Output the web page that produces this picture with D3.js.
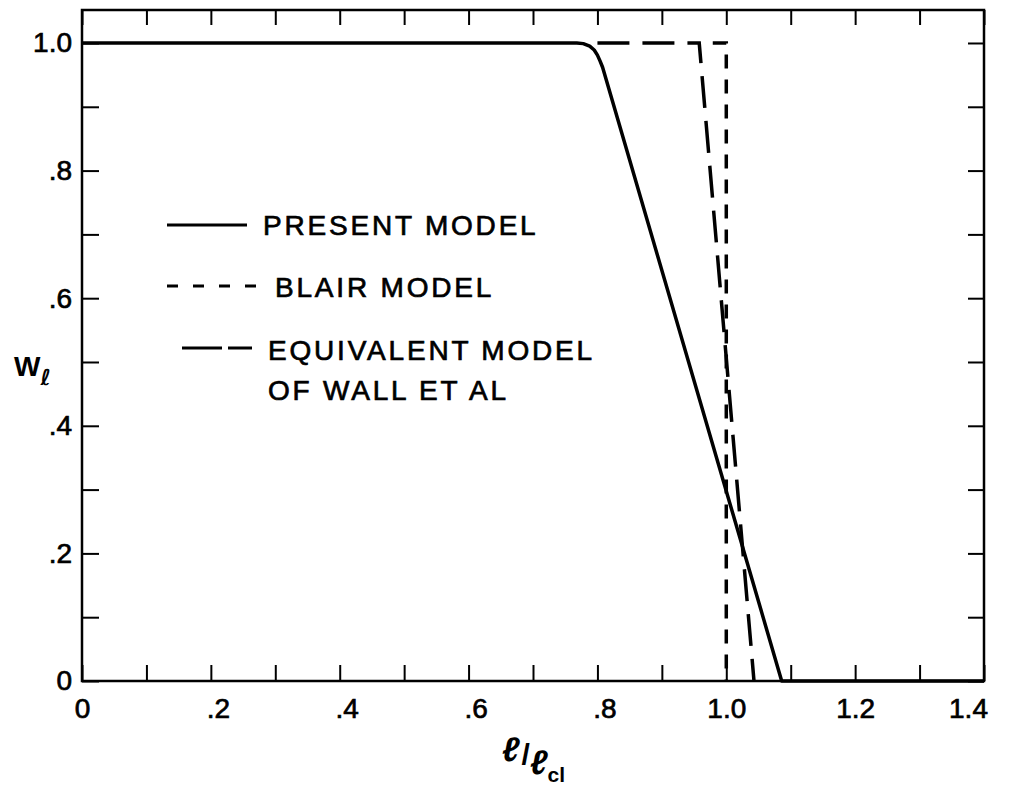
<!DOCTYPE html>
<html>
<head>
<meta charset="utf-8">
<script src="https://cdn.jsdelivr.net/npm/d3@7"></script>
<style>
  html, body { margin: 0; padding: 0; background: #fff; }
  svg { display: block; }
  text { font-family: "Liberation Sans", "DejaVu Sans", sans-serif; fill: #000; }
</style>
</head>
<body>
<svg id="chart" width="1011" height="790"></svg>
<script>
// ---- data ----
const xTicks = [0, 0.1, 0.2, 0.3, 0.4, 0.5, 0.6, 0.7, 0.8, 0.9, 1.0, 1.1, 1.2, 1.3, 1.4];
const xTickLabels = ["0", "", ".2", "", ".4", "", ".6", "", ".8", "", "1.0", "", "1.2", "", "1.4"];
const yTicks = [0, 0.1, 0.2, 0.3, 0.4, 0.5, 0.6, 0.7, 0.8, 0.9, 1.0];
const yTickLabels = ["0", "", ".2", "", ".4", "", ".6", "", ".8", "", "1.0"];

// Present model (solid)
const presentX = [0, 0.768, 0.778, 0.788, 0.795, 0.800, 0.804, 0.808, 1.086, 1.4];
const presentY = [1, 1, 0.999, 0.995, 0.989, 0.981, 0.972, 0.962, 0, 0];
// Blair model (short dashes)
const blairX = [0.979, 1.0, 1.0];
const blairY = [1, 1, 0];
// Equivalent model of Wall et al (long dashes)
const wallX = [0.80, 0.958, 1.043];
const wallY = [1, 1, 0];

const legendLabels = ["PRESENT MODEL", "BLAIR MODEL", "EQUIVALENT MODEL", "OF WALL ET AL"];

// ---- layout ----
const svg = d3.select("#chart");
const mLeft = 82, mRight = 984, mTop = 10, mBottom = 681;
const x = d3.scaleLinear().domain([0, 1.4]).range([mLeft, mRight]);
const y = d3.scaleLinear().domain([0, 1.0517]).range([mBottom, mTop]);

// frame
svg.append("rect")
  .attr("x", mLeft).attr("y", mTop)
  .attr("width", mRight - mLeft).attr("height", mBottom - mTop)
  .attr("fill", "none").attr("stroke", "#000").attr("stroke-width", 2.5);

function styleAxis(g) {
  g.select(".domain").remove();
  g.selectAll(".tick line").attr("stroke", "#000").attr("stroke-width", 2);
  g.selectAll(".tick text").attr("font-size", 28).attr("fill", "#000")
    .attr("stroke", "#000").attr("stroke-width", 0.7)
    .attr("font-family", "Liberation Sans, DejaVu Sans, sans-serif");
}

// bottom axis
svg.append("g").attr("transform", `translate(0,${mBottom})`)
  .call(d3.axisBottom(x).tickValues(xTicks).tickSizeInner(-16).tickSizeOuter(0).tickPadding(17)
    .tickFormat((d, i) => xTickLabels[i]))
  .call(styleAxis)
  .call(g => g.selectAll(".tick text").attr("dx", (d, i) =>
    xTickLabels[i].startsWith(".") ? 7 : (i === xTicks.length - 1 ? -16 : 0)));

// top axis (ticks only)
svg.append("g").attr("transform", `translate(0,${mTop})`)
  .call(d3.axisTop(x).tickValues(xTicks).tickSizeInner(-15).tickSizeOuter(0).tickFormat(""))
  .call(styleAxis);

// left axis
svg.append("g").attr("transform", `translate(${mLeft},0)`)
  .call(d3.axisLeft(y).tickValues(yTicks).tickSizeInner(-17).tickSizeOuter(0).tickPadding(10)
    .tickFormat((d, i) => yTickLabels[i]))
  .call(styleAxis);

// right axis (ticks only)
svg.append("g").attr("transform", `translate(${mRight},0)`)
  .call(d3.axisRight(y).tickValues(yTicks).tickSizeInner(-16).tickSizeOuter(0).tickFormat(""))
  .call(styleAxis);

// curves
const lineLin = d3.line().x(d => x(d[0])).y(d => y(d[1]));

svg.append("path")
  .datum(presentX.map((v, i) => [v, presentY[i]]))
  .attr("d", lineLin)
  .attr("fill", "none").attr("stroke", "#000").attr("stroke-width", 3.5)
  .attr("stroke-linejoin", "round");

svg.append("path")
  .datum(wallX.map((v, i) => [v, wallY[i]]))
  .attr("d", lineLin)
  .attr("fill", "none").attr("stroke", "#000").attr("stroke-width", 3.5)
  .attr("stroke-dasharray", "32,13");

svg.append("path")
  .datum(blairX.map((v, i) => [v, blairY[i]]))
  .attr("d", lineLin)
  .attr("fill", "none").attr("stroke", "#000").attr("stroke-width", 3.5)
  .attr("stroke-dasharray", "14,11");

// legend
const lg = svg.append("g");
lg.append("line").attr("x1", 167).attr("x2", 247).attr("y1", 225).attr("y2", 225)
  .attr("stroke", "#000").attr("stroke-width", 3);
lg.append("line").attr("x1", 167).attr("x2", 257).attr("y1", 286).attr("y2", 286)
  .attr("stroke", "#000").attr("stroke-width", 3).attr("stroke-dasharray", "11,15");
lg.append("line").attr("x1", 182).attr("x2", 252).attr("y1", 348).attr("y2", 348)
  .attr("stroke", "#000").attr("stroke-width", 3).attr("stroke-dasharray", "40,6");

const legPos = [[263, 235], [275, 297], [268, 360], [268, 400]];
legendLabels.forEach((t, i) => {
  lg.append("text").attr("x", legPos[i][0]).attr("y", legPos[i][1])
    .attr("font-size", 28).attr("letter-spacing", 2.8)
    .attr("stroke", "#000").attr("stroke-width", 0.7).text(t);
});

// y axis title  W_l
const yt = svg.append("text").attr("x", 14).attr("y", 376).attr("font-size", 28).attr("font-weight", "bold");
yt.append("tspan").text("W");
yt.append("tspan").attr("dy", 9).attr("font-size", 22).attr("font-style", "italic")
  .attr("font-family", "DejaVu Sans, sans-serif").text("ℓ");

// x axis title  l / l_cl
const xt = svg.append("text").attr("x", 502).attr("y", 761).attr("font-size", 34)
  .attr("font-weight", "bold").attr("font-family", "DejaVu Sans, sans-serif");
xt.append("tspan").attr("font-style", "italic").text("ℓ");
xt.append("tspan").attr("dx", 2).attr("dy", 4).attr("font-size", 30).text("/");
xt.append("tspan").attr("dy", 9).attr("font-style", "italic").text("ℓ");
xt.append("tspan").attr("dy", 8).attr("font-size", 21).text("cl");
</script>
</body>
</html>
